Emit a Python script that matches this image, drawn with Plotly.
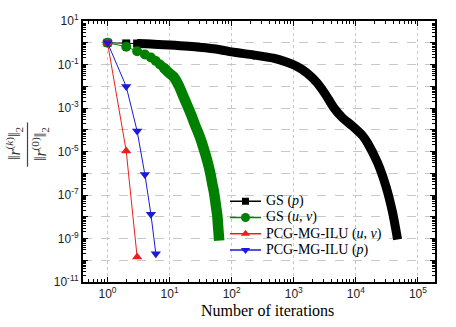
import plotly.graph_objects as go

# ---------------- data ----------------
gs_p_iter = [1, 2, 3, 5, 10, 30, 65, 100, 224, 470, 780, 1130, 1650, 2400, 3250,
             4450, 6050, 8750, 12800, 15400, 22300, 30400, 39000, 47000]
gs_p_res = [1.0, 0.93, 0.92, 0.88, 0.78, 0.62, 0.48, 0.38, 0.275, 0.195, 0.126, 0.081,
            0.04, 0.014, 4.2e-3, 1.0e-3, 3.6e-4, 1.5e-4, 5.4e-5, 2.5e-5, 3.1e-6, 2.6e-7,
            1.6e-8, 9e-10]

gs_uv_iter = [1, 2, 3, 4, 5, 6, 7, 8, 9, 10, 11.5, 14, 16.7, 19.5, 22.7, 26, 29,
              33, 37, 41, 45, 48.5, 52, 55.5, 58.7, 61, 63]
gs_uv_res = [1.0, 0.66, 0.41, 0.29, 0.21, 0.145, 0.1, 0.072, 0.052, 0.039, 0.028,
             0.011, 3.4e-3, 1.2e-3, 4.2e-4, 1.5e-4, 7.2e-5, 2.6e-5, 8.9e-6, 3.2e-6,
             1.07e-6, 3.5e-7, 1.3e-7, 3.5e-8, 1.1e-8, 2.5e-9, 8e-10]

pcg_uv_iter = [1, 2, 3]
pcg_uv_res = [1.0, 1.05e-5, 1.4e-10]

pcg_p_iter = [1, 2, 3, 4, 5, 6]
pcg_p_res = [1.0, 9.8e-3, 8.7e-5, 8.7e-7, 1.3e-8, 2.0e-10]

series_names = ["GS (<i>p</i>)", "GS (<i>u</i>, <i>v</i>)",
                "PCG-MG-ILU (<i>u</i>, <i>v</i>)", "PCG-MG-ILU (<i>p</i>)"]

x_major_exp = [0, 1, 2, 3, 4, 5]
y_major_exp = list(range(-11, 2))
y_label_exp = [1, -1, -3, -5, -7, -9, -11]

# ---------------- styling ----------------
BLACK = "#000000"
GREEN = "#008000"
RED = "#e8201c"
BLUE = "#1a1ad8"
SERIF = "Liberation Serif, Times New Roman, serif"
SANS = "Liberation Sans, Arial, sans-serif"

W, H = 456, 327
ML, MR, MT, MB = 83, 21, 17, 45
PW, PH = W - ML - MR, H - MT - MB


def px2paper_x(px):
    return (px - ML) / PW


def py2paper_y(py):
    return 1 - (py - MT) / PH


N_P_MARK = 3    # individually visible markers of GS (p)
N_UV_MARK = 8   # individually visible markers of GS (u, v)

styles = [
    dict(color=BLACK, symbol="square", size=8),
    dict(color=GREEN, symbol="circle", size=10),
    dict(color=RED, symbol="triangle-up", size=9),
    dict(color=BLUE, symbol="triangle-down", size=9),
]

fig = go.Figure()

# thick bands (merged markers)
fig.add_trace(go.Scatter(x=gs_p_iter[N_P_MARK - 1:], y=gs_p_res[N_P_MARK - 1:], mode="lines",
                         line=dict(color=BLACK, width=9, shape="spline", smoothing=0.7),
                         showlegend=False, hoverinfo="skip"))
fig.add_trace(go.Scatter(x=gs_uv_iter[N_UV_MARK - 1:], y=gs_uv_res[N_UV_MARK - 1:], mode="lines",
                         line=dict(color=GREEN, width=10.5, shape="spline", smoothing=0.7),
                         showlegend=False, hoverinfo="skip"))

# individually visible markers
for xs, ys, st in [(gs_p_iter[:N_P_MARK], gs_p_res[:N_P_MARK], styles[0]),
                   (gs_uv_iter[:N_UV_MARK], gs_uv_res[:N_UV_MARK], styles[1]),
                   (pcg_uv_iter, pcg_uv_res, styles[2]),
                   (pcg_p_iter, pcg_p_res, styles[3])]:
    fig.add_trace(go.Scatter(x=xs, y=ys, mode="lines+markers", showlegend=False,
                             line=dict(color=st["color"], width=1),
                             marker=dict(symbol=st["symbol"], size=st["size"], color=st["color"])))

x_minor = [m * 10 ** e for e in range(-1, 6) for m in range(2, 10)]
y_minor = [m * 10.0 ** e for e in range(-11, 1) for m in range(2, 10)]

fig.update_xaxes(type="log", range=[-0.395, 5.275],
                 tickvals=[10 ** e for e in x_major_exp],
                 ticktext=["10<sup>%d</sup>" % e for e in x_major_exp],
                 ticks="inside", ticklen=5, tickwidth=1.2, tickcolor=BLACK,
                 showline=True, linecolor=BLACK, linewidth=2, mirror="allticks",
                 showgrid=True, gridcolor="#c8c8c8", griddash="dot", gridwidth=1,
                 tickfont=dict(family=SANS, size=12, color="#222"),
                 minor=dict(tickvals=x_minor, ticks="inside", ticklen=3, tickcolor=BLACK, showgrid=False),
                 zeroline=False)

fig.update_yaxes(type="log", range=[-11, 1],
                 tickvals=[10.0 ** e for e in y_major_exp],
                 ticktext=[("10<sup>%d</sup>" % e) if e in y_label_exp else "" for e in y_major_exp],
                 ticks="inside", ticklen=5, tickwidth=1.2, tickcolor=BLACK,
                 showline=True, linecolor=BLACK, linewidth=2, mirror="allticks",
                 showgrid=True, gridcolor="#c8c8c8", griddash="dash", gridwidth=1,
                 tickfont=dict(family=SANS, size=12, color="#222"),
                 minor=dict(tickvals=y_minor, ticks="inside", ticklen=3, tickcolor=BLACK, showgrid=False),
                 zeroline=False)

# overlay axes in plot-fraction units for the legend keys
fig.update_layout(
    xaxis2=dict(overlaying="x", range=[0, 1], visible=False, fixedrange=True),
    yaxis2=dict(overlaying="y", range=[0, 1], visible=False, fixedrange=True),
)

# legend (manual, to reproduce the tight row spacing)
LEG_ROWS_PX = [200, 216.5, 233, 249.5]
LEG_X0, LEG_X1, LEG_TXT = 230, 261, 264
for name, st, ry in zip(series_names, styles, LEG_ROWS_PX):
    yy = py2paper_y(ry)
    fig.add_trace(go.Scatter(x=[px2paper_x(LEG_X0), px2paper_x(LEG_X1)], y=[yy, yy],
                             xaxis="x2", yaxis="y2", mode="lines", showlegend=False,
                             line=dict(color=st["color"], width=1.5), hoverinfo="skip"))
    fig.add_trace(go.Scatter(x=[px2paper_x((LEG_X0 + LEG_X1) / 2)], y=[yy],
                             xaxis="x2", yaxis="y2", mode="markers", showlegend=False,
                             marker=dict(symbol=st["symbol"], size=st["size"] - 1, color=st["color"]),
                             hoverinfo="skip"))
    fig.add_annotation(x=px2paper_x(LEG_TXT), y=yy, xref="paper", yref="paper",
                       xanchor="left", yanchor="middle", showarrow=False, text=name,
                       font=dict(family=SERIF, size=14, color=BLACK))

# white patch behind the legend (hides gridlines, stays under the data)
fig.add_shape(type="rect", xref="paper", yref="paper", layer="between",
              x0=px2paper_x(226), x1=px2paper_x(392), y0=py2paper_y(258), y1=py2paper_y(190),
              fillcolor="white", line=dict(width=0))

# x-axis title
fig.add_annotation(x=px2paper_x(267), y=py2paper_y(311), xref="paper", yref="paper",
                   xanchor="center", yanchor="middle", showarrow=False,
                   text="Number of iterations", font=dict(family=SERIF, size=16, color=BLACK))

# y-axis title as a fraction
fig.add_annotation(x=px2paper_x(14), y=py2paper_y(142), xref="paper", yref="paper",
                   xanchor="center", yanchor="middle",
                   text="‖<i>r</i><sup>(<i>k</i>)</sup>‖<sub>2</sub>", textangle=-90,
                   showarrow=False, font=dict(family=SERIF, size=16, color="#333"))
fig.add_annotation(x=px2paper_x(40), y=py2paper_y(142), xref="paper", yref="paper",
                   xanchor="center", yanchor="middle",
                   text="‖<i>r</i><sup>(0)</sup>‖<sub>2</sub>", textangle=-90,
                   showarrow=False, font=dict(family=SERIF, size=16, color="#333"))
fig.add_shape(type="line", xref="paper", yref="paper",
              x0=px2paper_x(27.5), x1=px2paper_x(27.5), y0=py2paper_y(120), y1=py2paper_y(165),
              line=dict(color="#444", width=1.2))

fig.update_layout(
    width=W, height=H,
    margin=dict(l=ML, r=MR, t=MT, b=MB),
    paper_bgcolor="white", plot_bgcolor="white",
    showlegend=False,
)

fig.write_html("out.html")
